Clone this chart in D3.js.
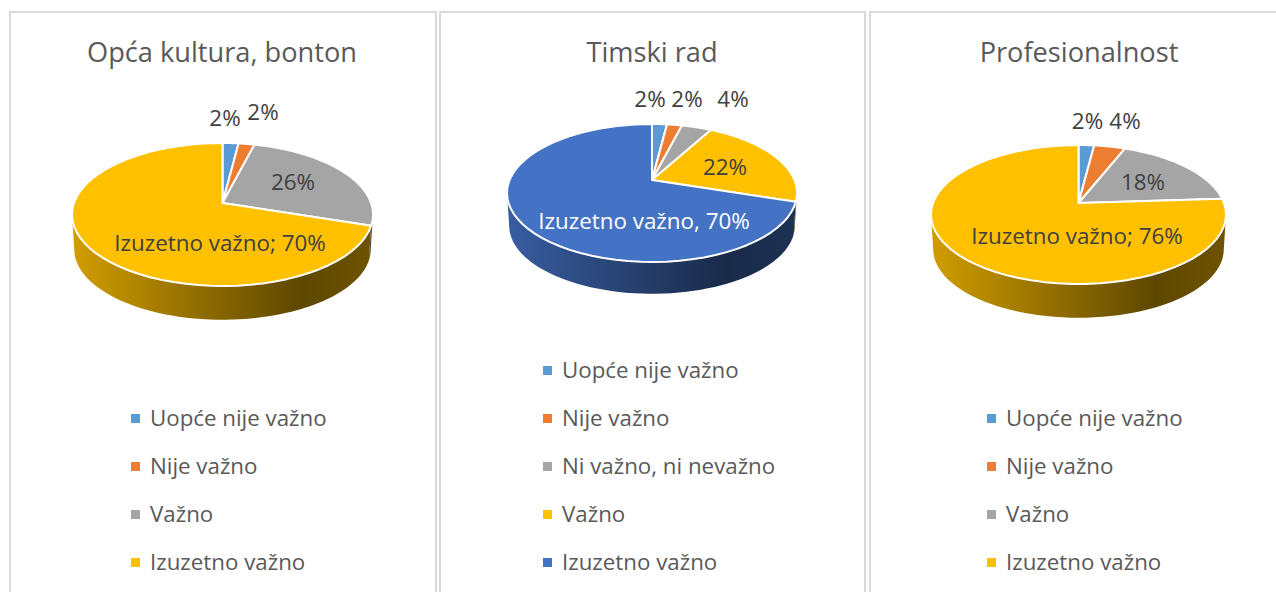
<!DOCTYPE html>
<html>
<head>
<meta charset="utf-8">
<script src="https://cdn.jsdelivr.net/npm/d3@7"></script>
<style>
  html, body { margin: 0; padding: 0; background: #fff; }
  svg { display: block; }
  text { font-family: "Open Sans", "Noto Sans", sans-serif; }
</style>
</head>
<body>
<div id="chart"></div>
<script>
const width = 1276;
const height = 592;

// chart values
const titles = ["Opća kultura, bonton", "Timski rad", "Profesionalnost"];
const categoriesA = ["Uopće nije važno", "Nije važno", "Važno", "Izuzetno važno"];
const categoriesB = ["Uopće nije važno", "Nije važno", "Ni važno, ni nevažno", "Važno", "Izuzetno važno"];
const valuesA = [2, 2, 26, 70];
const valuesB = [2, 2, 4, 22, 70];
const valuesC = [2, 4, 18, 76];
const labelsA = ["2%", "2%", "26%", "Izuzetno važno; 70%"];
const labelsB = ["2%", "2%", "4%", "22%", "Izuzetno važno, 70%"];
const labelsC = ["2%", "4%", "18%", "Izuzetno važno; 76%"];

const color = d3.scaleOrdinal()
  .domain(["Uopće nije važno", "Nije važno", "Ni važno, ni nevažno", "Važno", "Izuzetno važno"])
  .range(["#5B9BD5", "#ED7D31", "#A5A5A5", "#FFC000", "#4472C4"]);
// the first and third chart have no "Ni važno" slice, so Važno is grey and the top one gold
const colorFour = d3.scaleOrdinal()
  .domain(categoriesA)
  .range(["#5B9BD5", "#ED7D31", "#A5A5A5", "#FFC000"]);

// layout of the three panels
const panels = [
  { x0: 10, x1: 436, cx: 222.5, apex: 203, top: 143, bottom: 286, rx: 150.5, depth: 35, titleX: 222,
    legendX: 131, legendY: 417.5, cats: categoriesA, vals: valuesA, labs: labelsA, col: colorFour,
    labelPos: [[225, 117], [263, 111], [293, 181], [220, 242]], bigColor: "#404040" },
  { x0: 440, x1: 865, cx: 652, apex: 180, top: 124, bottom: 262, rx: 145, depth: 33, titleX: 652,
    legendX: 543, legendY: 369.5, cats: categoriesB, vals: valuesB, labs: labelsB, col: color,
    labelPos: [[650, 98], [687, 98], [733, 98], [725, 166], [644, 220]], bigColor: "#ffffff" },
  { x0: 870, x1: 1290, cx: 1078.5, apex: 203, top: 145, bottom: 284, rx: 147.5, depth: 35, titleX: 1079,
    legendX: 987, legendY: 417.5, cats: categoriesA, vals: valuesC, labs: labelsC, col: colorFour,
    labelPos: [[1087.5, 120], [1125, 120], [1143, 181], [1077, 235]], bigColor: "#404040" }
];

const svg = d3.select("#chart").append("svg")
  .attr("width", width)
  .attr("height", height);
const defs = svg.append("defs");

const pie = d3.pie().sort(null).startAngle(0).endAngle(2 * Math.PI);
const line = d3.line().x(d => d[0]).y(d => d[1]);

function shade(c, f) {
  const r = d3.rgb(c);
  return d3.rgb(r.r * f, r.g * f, r.b * f).formatHex();
}

panels.forEach(function (p, idx) {
  const g = svg.append("g");

  // panel border, open at the bottom where the screenshot is cut
  g.append("path")
    .attr("fill", "none")
    .attr("stroke", "#d9d9d9")
    .attr("stroke-width", 2)
    .attr("d", `M${p.x0},${height + 5}V12H${p.x1}V${height + 5}`);

  g.append("text")
    .attr("x", p.titleX)
    .attr("y", 62)
    .attr("text-anchor", "middle")
    .attr("font-size", 27.2)
    .attr("fill", "#595959")
    .text(titles[idx]);

  // perspective of the tilted pie, worked out from the back, front and apex of the disc
  const back = p.apex - p.top;
  const front = p.bottom - p.apex;
  const k = (front - back) / (front + back);
  const A = back * (1 + k);
  const midY = (p.top + p.bottom) / 2 - p.apex;
  const vMid = -midY / (A + midY * k);
  const X = p.rx * (1 + k * vMid) / Math.sqrt(1 - vMid * vMid);

  const project = function (t, dy, s) {
    const w = 1 + k * Math.cos(t);
    return [p.cx + s * X * Math.sin(t) / w, p.apex + dy - s * A * Math.cos(t) / w];
  };
  const arcPoints = function (a0, a1, dy, s) {
    return d3.range(0, 61).map(i => project(a0 + (a1 - a0) * i / 60, dy, s));
  };

  const arcs = pie(p.vals);
  const tRight = Math.acos(-k);
  const tLeft = 2 * Math.PI - tRight;

  // side wall
  arcs.forEach(function (d, i) {
    const a0 = Math.max(d.startAngle, tRight);
    const a1 = Math.min(d.endAngle, tLeft);
    if (a1 <= a0) return;
    const c = p.col(p.cats[i]);
    const id = `wall-${idx}-${i}`;
    const grad = defs.append("linearGradient")
      .attr("id", id)
      .attr("gradientUnits", "userSpaceOnUse")
      .attr("x1", p.cx - p.rx).attr("x2", p.cx + p.rx)
      .attr("y1", 0).attr("y2", 0);
    grad.append("stop").attr("offset", "0").attr("stop-color", shade(c, 0.82));
    grad.append("stop").attr("offset", "0.76").attr("stop-color", shade(c, 0.37));
    grad.append("stop").attr("offset", "1").attr("stop-color", shade(c, 0.43));
    const pts = arcPoints(a0, a1, 0, 1).concat(arcPoints(a1, a0, p.depth, 0.985));
    g.append("path")
      .attr("d", line(pts) + "Z")
      .attr("fill", `url(#${id})`);
  });

  // top of the disc
  arcs.forEach(function (d, i) {
    const pts = [[p.cx, p.apex]].concat(arcPoints(d.startAngle, d.endAngle, 0, 1));
    g.append("path")
      .attr("d", line(pts) + "Z")
      .attr("fill", p.col(p.cats[i]))
      .attr("stroke", "#fff")
      .attr("stroke-width", 2)
      .attr("stroke-linejoin", "round");
  });

  // data labels
  p.labs.forEach(function (t, i) {
    const last = i === p.labs.length - 1;
    g.append("text")
      .attr("x", p.labelPos[i][0])
      .attr("y", p.labelPos[i][1])
      .attr("text-anchor", "middle")
      .attr("dominant-baseline", "central")
      .attr("font-size", 22.4)
      .attr("fill", last ? p.bigColor : "#404040")
      .text(t);
  });

  // legend
  const legend = d3.scaleBand()
    .domain(p.cats)
    .range([p.legendY, 561.5 + 48])
    .paddingInner(0)
    .paddingOuter(0)
    .align(0);
  p.cats.forEach(function (c) {
    const y = legend(c);
    g.append("rect")
      .attr("x", p.legendX)
      .attr("y", y - 3.5)
      .attr("width", 9)
      .attr("height", 9)
      .attr("fill", p.col(c));
    g.append("text")
      .attr("x", p.legendX + 19)
      .attr("y", y)
      .attr("dominant-baseline", "central")
      .attr("font-size", 22.3)
      .attr("fill", "#595959")
      .text(c);
  });
});
</script>
</body>
</html>
